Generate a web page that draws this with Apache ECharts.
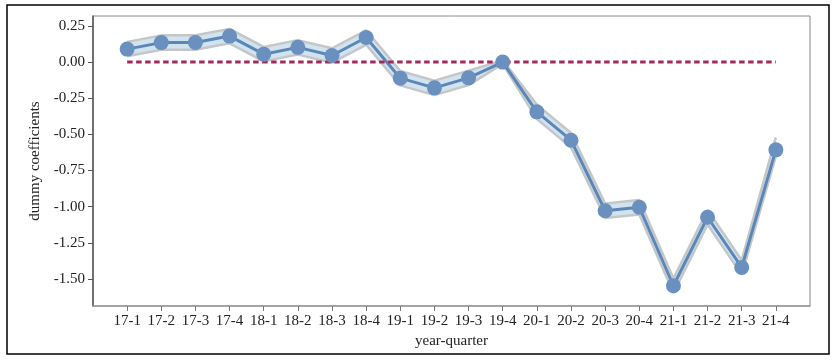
<!DOCTYPE html>
<html>
<head>
<meta charset="utf-8">
<script src="https://cdn.jsdelivr.net/npm/echarts@6/dist/echarts.min.js"></script>
<style>
html,body{margin:0;padding:0;background:#fff;}
#chart{width:838px;height:360px;}
</style>
</head>
<body>
<div id="chart"></div>
<script>
var categories = ['17-1','17-2','17-3','17-4','18-1','18-2','18-3','18-4','19-1','19-2','19-3','19-4','20-1','20-2','20-3','20-4','21-1','21-2','21-3','21-4'];
var coefficients = [0.09,0.135,0.136,0.18,0.055,0.102,0.046,0.17,-0.111,-0.178,-0.109,0.0,-0.344,-0.54,-1.028,-1.004,-1.547,-1.073,-1.42,-0.607];
var lowerBound = [0.04,0.085,0.086,0.13,0.005,0.052,-0.004,0.12,-0.161,-0.228,-0.159,-0.012,-0.394,-0.59,-1.078,-1.054,-1.597,-1.123,-1.47,-0.65];
var upperBound = [0.14,0.185,0.186,0.23,0.105,0.152,0.096,0.22,-0.061,-0.128,-0.059,0.012,-0.294,-0.49,-0.978,-0.954,-1.497,-1.023,-1.37,-0.52];
var zeroLine = [0,0,0,0,0,0,0,0,0,0,0,0,0,0,0,0,0,0,0,0];
var yTicks = [-1.5,-1.25,-1.0,-0.75,-0.5,-0.25,0.0,0.25];

function pairs(arr){ return arr.map(function(v,i){ return [i,v]; }); }
var xTickIdx = categories.map(function(c,i){ return i; });

function renderBand(params, api){
  var pts = [];
  for (var i = 0; i < upperBound.length; i++) pts.push(api.coord([i, upperBound[i]]));
  for (var j = lowerBound.length - 1; j >= 0; j--) pts.push(api.coord([j, lowerBound[j]]));
  return {type:'polygon', shape:{points:pts}, style:{fill:'#d2e3f0', stroke:'none'}, silent:true};
}

var chart = echarts.init(document.getElementById('chart'), null, {renderer:'canvas'});
var font = 'Liberation Serif';
chart.setOption({
  animation:false,
  backgroundColor:'#fff',
  graphic:[{type:'rect', shape:{x:7,y:5,width:822,height:349}, style:{fill:'none', stroke:'#000', lineWidth:1.5}, silent:true, z:0}],
  grid:{left:93, right:28, top:16, bottom:54, show:true, borderColor:'#8a8a8a', borderWidth:1, backgroundColor:'transparent'},
  xAxis:{
    type:'value', min:-1, max:20,
    name:'year-quarter', nameLocation:'middle', nameGap:24,
    nameTextStyle:{fontFamily:font, fontSize:15, color:'#222'},
    axisLine:{show:true, onZero:false, lineStyle:{color:'#999', width:1.5}},
    axisTick:{show:true, length:5, customValues:xTickIdx, lineStyle:{color:'#777'}},
    axisLabel:{customValues:xTickIdx, margin:8, fontFamily:font, fontSize:15, color:'#222',
      formatter:function(v){ return categories[Math.round(v)] || ''; }},
    splitLine:{show:false}
  },
  yAxis:{
    type:'value', min:-1.687, max:0.319,
    name:'dummy coefficients', nameLocation:'middle', nameGap:50,
    nameTextStyle:{fontFamily:font, fontSize:15, color:'#222'},
    axisLine:{show:true, onZero:false, lineStyle:{color:'#555', width:1.5}},
    axisTick:{show:true, length:5, customValues:yTicks, lineStyle:{color:'#555'}},
    axisLabel:{customValues:yTicks, margin:8, fontFamily:font, fontSize:15, color:'#222',
      formatter:function(v){ return v.toFixed(2); }},
    splitLine:{show:false}
  },
  series:[
    {type:'custom', renderItem:renderBand, data:[[0, coefficients[0]]], silent:true, z:1, clip:true},
    {type:'line', data:pairs(lowerBound), symbol:'none', silent:true, z:1,
      lineStyle:{color:'#c4c7ca', width:2.5}},
    {type:'line', data:pairs(upperBound), symbol:'none', silent:true, z:1,
      lineStyle:{color:'#c4c7ca', width:2.5}},
    {type:'line', data:pairs(coefficients), symbol:'none', silent:true, z:2,
      lineStyle:{color:'#5a86b8', width:3}},
    {type:'line', data:pairs(zeroLine), symbol:'none', silent:true, z:3,
      lineStyle:{color:'#a3285c', width:3, type:[5.5,3.5]}},
    {type:'scatter', data:pairs(coefficients), symbol:'circle', symbolSize:15, z:4,
      itemStyle:{color:'#6990bf', borderWidth:0, opacity:1}}
  ]
});
</script>
</body>
</html>
